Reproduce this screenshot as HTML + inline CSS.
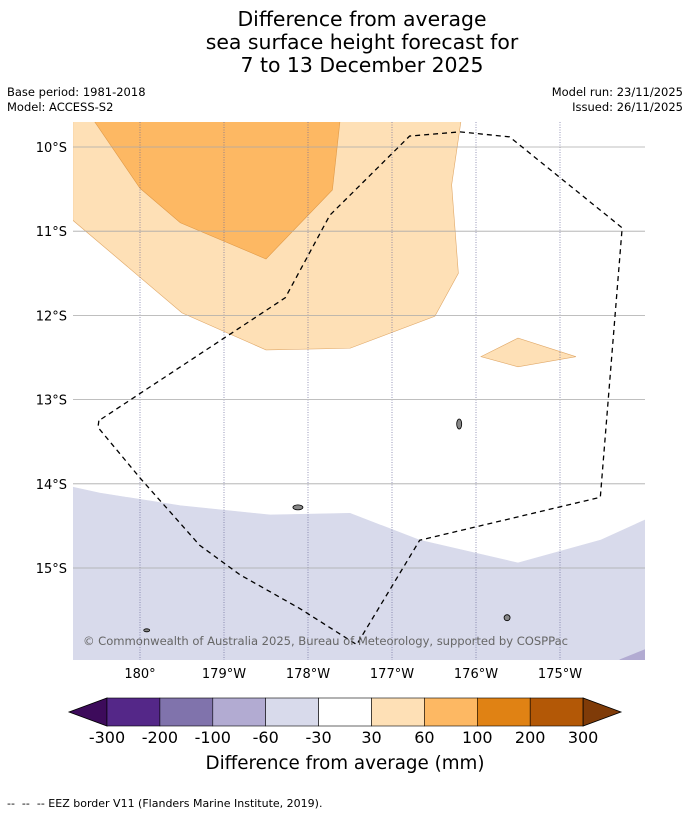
<!DOCTYPE html>
<html><head><meta charset="utf-8">
<style>
body{margin:0;background:#fff;font-family:"Liberation Sans","DejaVu Sans",sans-serif;}
#wrap{position:relative;width:690px;height:816px;overflow:hidden;background:#fff}
.t{position:absolute;color:#000;white-space:pre}
</style></head>
<body>
<div id="wrap">
<div class="t" style="left:0;width:724px;top:8px;text-align:center;font-size:20.4px;line-height:23px;font-family:'DejaVu Sans',sans-serif">Difference from average
sea surface height forecast for
7 to 13 December 2025</div>
<div class="t" style="left:7px;top:85px;font-size:11.5px;font-family:'DejaVu Sans',sans-serif;line-height:15px">Base period: 1981-2018
Model: ACCESS-S2</div>
<div class="t" style="right:7px;top:85px;font-size:11.5px;font-family:'DejaVu Sans',sans-serif;line-height:15px;text-align:right">Model run: 23/11/2025
Issued: 26/11/2025</div>
<svg id="map" width="690" height="816" style="position:absolute;left:0;top:0"></svg>
<div class="t" style="left:0;width:690px;top:753px;text-align:center;font-size:18.3px;font-family:'DejaVu Sans',sans-serif">Difference from average (mm)</div>
<div class="t" style="left:7px;top:797px;font-size:11px;font-family:'DejaVu Sans',sans-serif">--  --  -- EEZ border V11 (Flanders Marine Institute, 2019).</div>
</div>
<script>
const lonTicks=[180,181,182,183,184,185];
const lonLabels=["180°","179°W","178°W","177°W","176°W","175°W"];
const latTicks=[-10,-11,-12,-13,-14,-15];
const latLabels=["10°S","11°S","12°S","13°S","14°S","15°S"];
const lightOrange=[[179.2,-9.7],[183.82,-9.7],[183.71,-10.45],[183.79,-11.5],[183.51,-12.01],[182.5,-12.39],[181.5,-12.41],[180.5,-11.97],[179.2,-10.87]];
const midOrange=[[179.46,-9.7],[182.38,-9.7],[182.29,-10.51],[181.5,-11.33],[180.48,-10.9],[180,-10.49]];
const diamond=[[184.06,-12.49],[184.5,-12.27],[185.19,-12.49],[184.5,-12.61]];
const lightPurple=[[179.2,-14.04],[179.52,-14.11],[180.48,-14.26],[181.55,-14.37],[182.5,-14.35],[183.33,-14.67],[184.5,-14.94],[185.48,-14.67],[186.01,-14.43],[186.01,-16.09],[179.2,-16.09]];
const midPurple=[[185.71,-16.09],[186.01,-15.97],[186.01,-16.09]];
const eez=[[179.51,-13.25],[179.5,-13.33],[180,-13.93],[180.71,-14.73],[181.19,-15.08],[181.9,-15.48],[182.58,-15.91],[183.33,-14.67],[185.48,-14.16],[185.74,-10.96],[184.4,-9.88],[183.81,-9.82],[183.21,-9.87],[182.26,-10.81],[181.73,-11.79],[179.51,-13.25]];
const islands=[[183.8,-13.29,2.5,5],[181.88,-14.28,5,2.5],[184.37,-15.59,3,3],[180.08,-15.74,3,1.5]];
const cbColors=["#3d0b5b","#542788","#8073ac","#b2abd2","#d8daeb","#ffffff","#fee0b6","#fdb863","#e08214","#b35806","#7f3b08"];
const cbLabels=["-300","-200","-100","-60","-30","30","60","100","200","300"];
const NS="http://www.w3.org/2000/svg";
const svg=document.getElementById('map');
const X=l=>140+(l-180)*84, Y=a=>147+(-a-10)*84.2;
function el(t,a,p){const e=document.createElementNS(NS,t);for(const k in a)e.setAttribute(k,a[k]);(p||svg).appendChild(e);return e;}
const defs=el('defs',{});const cp=el('clipPath',{id:'c'},defs);el('rect',{x:73,y:122,width:572,height:538},cp);
const g=el('g',{'clip-path':'url(#c)'});
function poly(pts,fill,stroke,name){const p=el('polygon',{points:pts.map(q=>X(q[0])+','+Y(q[1])).join(' '),fill:fill,stroke:stroke,'stroke-width':0.6},g);

}
poly(lightOrange,"#fee0b6","#e0a868","region-30-60");
poly(midOrange,"#fdb863","#e09a48","region-60-100");
poly(diamond,"#fee0b6","#e0a868","region-30-60-small");
poly(lightPurple,"#d8daeb","#d8daeb","region-neg30-neg60");
poly(midPurple,"#b2abd2","#b2abd2","region-neg60-neg100");
lonTicks.forEach((l,i)=>{const ln=el('line',{x1:X(l),x2:X(l),y1:122,y2:660,stroke:'#6a6a9a','stroke-width':0.7,'stroke-dasharray':'1,1.5'},g);


const t=el('text',{x:X(l),y:678,'text-anchor':'middle','font-size':13,'font-family':'DejaVu Sans,sans-serif'});t.textContent=lonLabels[i];

});
latTicks.forEach((a,i)=>{const ln=el('line',{x1:73,x2:645,y1:Y(a),y2:Y(a),stroke:'#aaa','stroke-width':0.8},g);


const t=el('text',{x:67,y:Y(a)+5,'text-anchor':'end','font-size':13,'font-family':'DejaVu Sans,sans-serif'});t.textContent=latLabels[i];

});
const ez=el('polyline',{points:eez.map(q=>X(q[0])+','+Y(q[1])).join(' '),fill:'none',stroke:'#000','stroke-width':1.3,'stroke-dasharray':'5,4'},g);


islands.forEach(s=>{const e=el('ellipse',{cx:X(s[0]),cy:Y(s[1]),rx:s[2],ry:s[3],fill:'#888',stroke:'#000','stroke-width':0.8},g);

});
const cr=el('text',{x:83,y:645,'font-size':11.6,fill:'#666','font-family':'DejaVu Sans,sans-serif',textLength:485},g);cr.textContent="© Commonwealth of Australia 2025, Bureau of Meteorology, supported by COSPPac";


const x0=107,w=52.9,y0=698,h=28;
const lt=el('polygon',{points:`${x0},${y0} ${x0},${y0+h} 69,${y0+h/2}`,fill:cbColors[0],stroke:'#000','stroke-width':0.8});


for(let i=0;i<9;i++){const r=el('rect',{x:x0+i*w,y:y0,width:w,height:h,fill:cbColors[i+1],stroke:'#000','stroke-width':0.6});

}
const xe=x0+9*w;
const rt=el('polygon',{points:`${xe},${y0} ${xe},${y0+h} 621,${y0+h/2}`,fill:cbColors[10],stroke:'#000','stroke-width':0.8});


cbLabels.forEach((s,i)=>{const t=el('text',{x:x0+i*w,y:743,'text-anchor':'middle','font-size':16,'font-family':'DejaVu Sans,sans-serif'});t.textContent=s;

});
</script>
</body></html>
